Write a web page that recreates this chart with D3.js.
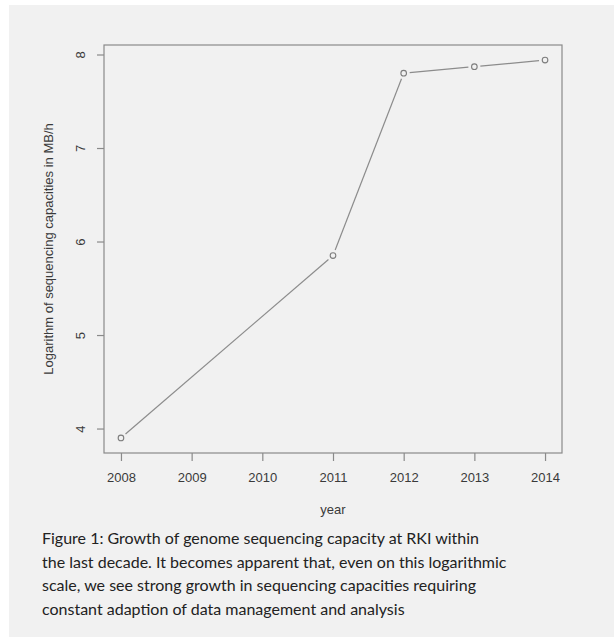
<!DOCTYPE html>
<html>
<head>
<meta charset="utf-8">
<script src="https://cdn.jsdelivr.net/npm/d3@7"></script>
<style>
  html, body { margin: 0; padding: 0; background: #fff; }
  svg { display: block; }
</style>
</head>
<body>
<svg id="chart" width="614" height="637"></svg>
<script>
// values
const years = [2008, 2011, 2012, 2013, 2014];
const logCapacity = [3.90, 5.85, 7.80, 7.87, 7.94];
const xTicks = [2008, 2009, 2010, 2011, 2012, 2013, 2014];
const yTicks = [4, 5, 6, 7, 8];
const caption = [
  'Figure 1: Growth of genome sequencing capacity at RKI within',
  'the last decade. It becomes apparent that, even on this logarithmic',
  'scale, we see strong growth in sequencing capacities requiring',
  'constant adaption of data management and analysis'
];

const svg = d3.select('#chart');
const plot = { left: 104, right: 562, top: 45, bottom: 453 };

// page background (white strip top/left like the scan)
svg.append('rect')
  .attr('x', 9).attr('y', 5)
  .attr('width', 614 - 9).attr('height', 637 - 5)
  .attr('fill', '#f1f1f1');

// R-style 4% padding around the data range
const x = d3.scaleLinear().domain([2007.76, 2014.24]).range([plot.left, plot.right]);
const y = d3.scaleLinear().domain([3.7384, 8.1016]).range([plot.bottom, plot.top]);

const axisColor = '#8a8a8a';
const textColor = '#3a3a3a';
const font = '"Liberation Sans", Arial, sans-serif';

// box
svg.append('rect')
  .attr('x', plot.left).attr('y', plot.top)
  .attr('width', plot.right - plot.left).attr('height', plot.bottom - plot.top)
  .attr('fill', 'none')
  .attr('stroke', axisColor)
  .attr('stroke-width', 1.2);

// x axis
const xAxis = svg.append('g')
  .attr('transform', `translate(0,${plot.bottom})`)
  .call(d3.axisBottom(x).tickValues(xTicks).tickFormat(d3.format('d')).tickSize(8).tickPadding(12));
xAxis.select('.domain').remove();
xAxis.selectAll('line').attr('stroke', axisColor).attr('stroke-width', 1.2);
xAxis.selectAll('text')
  .attr('fill', textColor)
  .style('font-family', font)
  .style('font-size', '13px');

// y axis, labels parallel to the axis like R's las=0
const yAxis = svg.append('g')
  .attr('transform', `translate(${plot.left},0)`)
  .call(d3.axisLeft(y).tickValues(yTicks).tickFormat(d3.format('d')).tickSize(7));
yAxis.select('.domain').remove();
yAxis.selectAll('line').attr('stroke', axisColor).attr('stroke-width', 1.2);
yAxis.selectAll('text')
  .attr('x', null).attr('dy', null)
  .attr('text-anchor', 'middle')
  .attr('transform', 'translate(-19,0) rotate(-90)')
  .attr('fill', textColor)
  .style('font-family', font)
  .style('font-size', '13px');

// axis titles
svg.append('text')
  .attr('x', (plot.left + plot.right) / 2)
  .attr('y', 514)
  .attr('text-anchor', 'middle')
  .attr('fill', textColor)
  .style('font-family', font)
  .style('font-size', '13px')
  .text('year');

svg.append('text')
  .attr('transform', `translate(53,${(plot.top + plot.bottom) / 2}) rotate(-90)`)
  .attr('text-anchor', 'middle')
  .attr('fill', textColor)
  .style('font-family', font)
  .style('font-size', '13px')
  .text('Logarithm of sequencing capacities in MB/h');

// type = "b": segments stop short of the points
const pts = years.map((yr, i) => ({ px: x(yr), py: y(logCapacity[i]) }));
const gap = 6;
const segs = d3.pairs(pts).map(([a, b]) => {
  const dx = b.px - a.px, dy = b.py - a.py;
  const len = Math.hypot(dx, dy);
  const ux = dx / len, uy = dy / len;
  return { x1: a.px + ux * gap, y1: a.py + uy * gap, x2: b.px - ux * gap, y2: b.py - uy * gap };
});

svg.append('g').selectAll('line')
  .data(segs)
  .join('line')
  .attr('x1', d => d.x1).attr('y1', d => d.y1)
  .attr('x2', d => d.x2).attr('y2', d => d.y2)
  .attr('stroke', '#8c8c8c')
  .attr('stroke-width', 1.2);

svg.append('g').selectAll('circle')
  .data(pts)
  .join('circle')
  .attr('cx', d => d.px)
  .attr('cy', d => d.py)
  .attr('r', 2.8)
  .attr('fill', 'none')
  .attr('stroke', '#7d7d7d')
  .attr('stroke-width', 1.1);

// caption
svg.append('g').selectAll('text')
  .data(caption)
  .join('text')
  .attr('x', 42)
  .attr('y', (d, i) => 544 + i * 23.7)
  .attr('fill', '#222')
  .style('font-family', 'Lato, "Noto Sans", sans-serif')
  .style('font-size', '16px')
  .text(d => d);
</script>
</body>
</html>
